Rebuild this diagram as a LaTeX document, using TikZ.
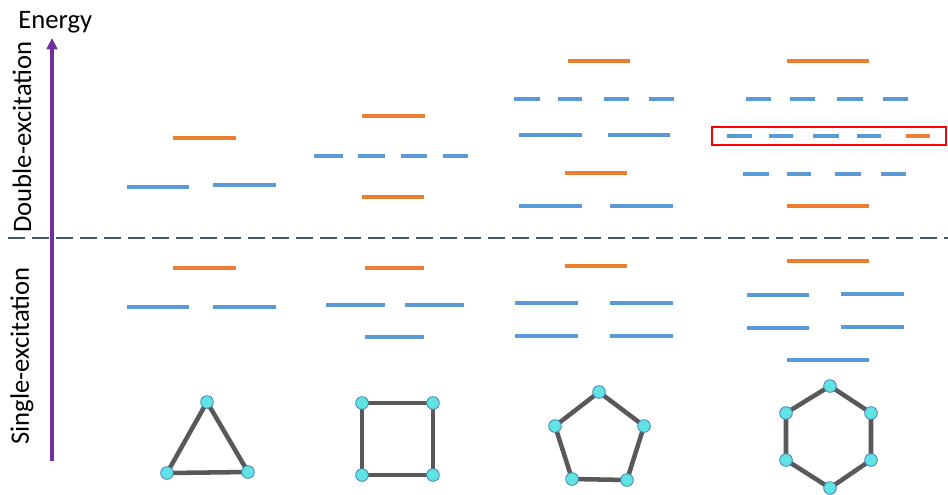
\documentclass[tikz,border=0pt]{standalone}
\usepackage{fontspec}
\setmainfont{Carlito}
\usetikzlibrary{arrows.meta}
\definecolor{lvblue}{HTML}{5B9BD5}
\definecolor{lvorange}{HTML}{ED7D31}
\definecolor{axpurple}{HTML}{7030A0}
\definecolor{divider}{HTML}{44546A}
\definecolor{bondgray}{HTML}{595959}
\definecolor{sitefill}{HTML}{5FE3E3}
\definecolor{siteedge}{HTML}{4A7EBB}
\tikzset{
  blv/.style={draw=lvblue, line width=3.1pt},
  olv/.style={draw=lvorange, line width=3.1pt},
  site/.style={circle, fill=sitefill, draw=siteedge, line width=0.6pt, minimum size=9.5pt, inner sep=0pt},
  bond/.style={draw=bondgray, line width=3.4pt},
  lbl/.style={font=\fontsize{20}{24}\selectfont, inner sep=0pt},
}
\begin{document}
\begin{tikzpicture}[x=0.75pt, y=-0.75pt]
\useasboundingbox (0,0) rectangle (948,494);

% axis and labels
\coordinate (axbot) at (52,461);
\coordinate (axtop) at (52,38);
\draw[axpurple, line width=2.4pt, -{Triangle[length=8.5pt,width=8pt]}] (axbot) -- (axtop);
\node[lbl, anchor=base west] (energy) at (18,28) {Energy};
\node[lbl, rotate=90] (dbl) at (22,137) {Double-excitation};
\node[lbl, rotate=90] (sgl) at (22,356) {Single-excitation};

% divider between single and double excitations
\coordinate (dl) at (8,238);
\coordinate (dr) at (948,238);
\draw[divider, line width=1.8pt, dash pattern=on 13pt off 5pt] (dl) -- (dr);

% ---- column 1 (triangle)
\draw[olv] (173,138) -- (236,138);
\draw[blv] (127,187) -- (189,187);
\draw[blv] (213,185) -- (276,185);
\draw[olv] (173,268) -- (236,268);
\draw[blv] (127,307) -- (189,307);
\draw[blv] (213,307) -- (276,307);

% ---- column 2 (square)
\draw[olv] (362,116) -- (425,116);
\foreach \a/\b in {314/343, 358/385, 401/427, 443/468}
  \draw[blv] (\a,156) -- (\b,156);
\draw[olv] (362,197) -- (424,197);
\draw[olv] (365,268) -- (424,268);
\draw[blv] (326,305) -- (385,305);
\draw[blv] (405,305) -- (464,305);
\draw[blv] (365,337) -- (424,337);

% ---- column 3 (pentagon)
\draw[olv] (568,61) -- (630,61);
\foreach \a/\b in {514/540, 558/582, 604/629, 649/674}
  \draw[blv] (\a,99) -- (\b,99);
\draw[blv] (519,135) -- (582,135);
\draw[blv] (608,135) -- (670,135);
\draw[olv] (565,173) -- (627,173);
\draw[blv] (519,206) -- (582,206);
\draw[blv] (610,206) -- (673,206);
\draw[olv] (565,266) -- (627,266);
\draw[blv] (515,303) -- (578,303);
\draw[blv] (610,303) -- (673,303);
\draw[blv] (515,336) -- (578,336);
\draw[blv] (610,336) -- (673,336);

% ---- column 4 (hexagon)
\draw[olv] (787,61) -- (869,61);
\foreach \a/\b in {746/771, 790/815, 837/863, 883/908}
  \draw[blv] (\a,99) -- (\b,99);
\node[draw=red, line width=1.6pt, minimum width=176pt, minimum height=14pt, inner sep=0pt] (hl) at (829,136) {};
\foreach \a/\b in {727/752, 769/793, 813/839, 857/881}
  \draw[blv] (\a,136) -- (\b,136);
\draw[olv] (906,136) -- (930,136);
\foreach \a/\b in {743/769, 787/811, 835/861, 881/906}
  \draw[blv] (\a,174) -- (\b,174);
\draw[olv] (787,206) -- (869,206);
\draw[olv] (787,261) -- (869,261);
\draw[blv] (747,295) -- (809,295);
\draw[blv] (841,294) -- (904,294);
\draw[blv] (747,328) -- (809,328);
\draw[blv] (841,327) -- (904,327);
\draw[blv] (787,360) -- (869,360);

% ---- rings
% triangle
\coordinate (t1) at (207,402);
\coordinate (t2) at (248,472);
\coordinate (t3) at (167,473);
\draw[bond] (t1) -- (t2) -- (t3) -- cycle;
\foreach \p in {t1,t2,t3} \node[site] (s\p) at (\p) {};

% square
\coordinate (q1) at (362,403);
\coordinate (q2) at (433,403);
\coordinate (q3) at (433,475);
\coordinate (q4) at (362,475);
\draw[bond] (q1) -- (q2) -- (q3) -- (q4) -- cycle;
\foreach \p in {q1,q2,q3,q4} \node[site] (s\p) at (\p) {};

% pentagon
\coordinate (p1) at (599,392);
\coordinate (p2) at (644,426);
\coordinate (p3) at (627,480);
\coordinate (p4) at (572,479);
\coordinate (p5) at (555,426);
\draw[bond] (p1) -- (p2) -- (p3) -- (p4) -- (p5) -- cycle;
\foreach \p in {p1,p2,p3,p4,p5} \node[site] (s\p) at (\p) {};

% hexagon
\coordinate (h1) at (830,386);
\coordinate (h2) at (871,413);
\coordinate (h3) at (871,460);
\coordinate (h4) at (830,488);
\coordinate (h5) at (786,460);
\coordinate (h6) at (786,413);
\draw[bond] (h1) -- (h2) -- (h3) -- (h4) -- (h5) -- (h6) -- cycle;
\foreach \p in {h1,h2,h3,h4,h5,h6} \node[site] (s\p) at (\p) {};
\end{tikzpicture}
\end{document}
